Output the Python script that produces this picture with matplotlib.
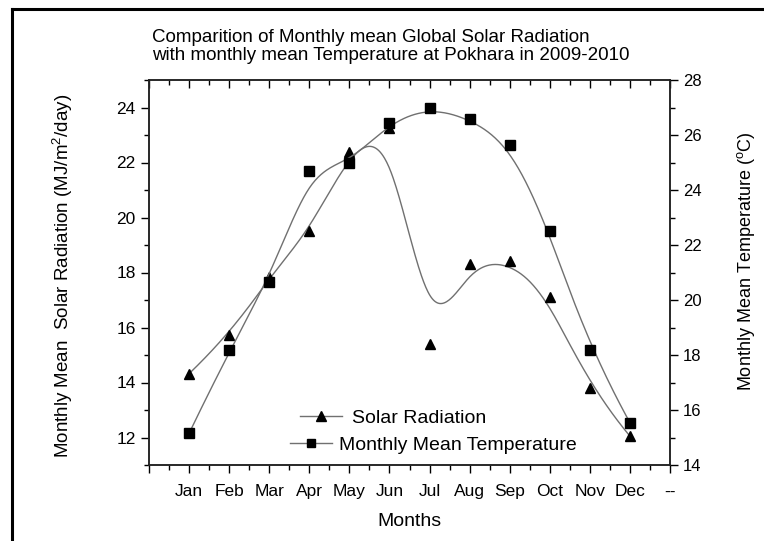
import numpy as np
import matplotlib
matplotlib.use('Agg')
import matplotlib.pyplot as plt
from matplotlib.lines import Line2D
from matplotlib.ticker import MultipleLocator

# Data
months = ['Jan', 'Feb', 'Mar', 'Apr', 'May', 'Jun',
          'Jul', 'Aug', 'Sep', 'Oct', 'Nov', 'Dec']
month_pos = np.arange(1, 13)
solar = [14.32, 15.72, 17.85, 19.5, 22.38, 23.24,
         15.4, 18.3, 18.42, 17.1, 13.8, 12.05]           # MJ/m2/day
temperature = [15.15, 18.18, 20.64, 24.7, 24.98, 26.45,
               27.0, 26.6, 25.64, 22.52, 18.18, 15.54]   # deg C


def bspline(xs, ys, n=500, k=3):
    # clamped cubic B-spline using the data as control points (Origin style)
    P = np.column_stack([xs, ys]).astype(float)
    m = len(P)
    knots = np.concatenate([np.zeros(k), np.arange(m - k + 1),
                            np.full(k, m - k)]).astype(float)
    t = np.linspace(0, m - k, n)
    t[-1] -= 1e-9
    B = np.zeros((n, len(knots) - 1))
    for i in range(len(knots) - 1):
        B[:, i] = (knots[i] <= t) & (t < knots[i + 1])
    for d in range(1, k + 1):
        Bn = np.zeros((n, len(knots) - 1 - d))
        for i in range(len(knots) - 1 - d):
            a = knots[i + d] - knots[i]
            b = knots[i + d + 1] - knots[i + 1]
            term = np.zeros(n)
            if a > 0:
                term += (t - knots[i]) / a * B[:, i]
            if b > 0:
                term += (knots[i + d + 1] - t) / b * B[:, i + 1]
            Bn[:, i] = term
        B = Bn
    curve = B @ P
    return curve[:, 0], curve[:, 1]


plt.rcParams['font.family'] = ['Liberation Sans', 'DejaVu Sans']

fig = plt.figure(figsize=(7.64, 5.41), dpi=100)
ax = fig.add_axes([149 / 764, 1 - 465 / 541, 521 / 764, 385 / 541])
ax2 = ax.twinx()

line_col = '#707070'

sx, sy = bspline(month_pos, solar)
ax.plot(sx, sy, color=line_col, lw=1.0, zorder=2)
ax.plot(month_pos, solar, ls='none', marker='^', ms=7.5, color='black', zorder=3)

tx, ty = bspline(month_pos, temperature)
ax2.plot(tx, ty, color=line_col, lw=1.0, zorder=2)
ax2.plot(month_pos, temperature, ls='none', marker='s', ms=6.5, color='black', zorder=3)

# axes ranges and ticks
ax.set_xlim(0, 13)
ax.set_ylim(11, 25)
ax2.set_ylim(14, 28)

ax.set_xticks(np.arange(0, 14))
ax.set_xticklabels([''] + months + ['--'])
ax.xaxis.set_minor_locator(MultipleLocator(0.5))
ax.set_yticks(np.arange(12, 25, 2))
ax.yaxis.set_minor_locator(MultipleLocator(1))
ax2.set_yticks(np.arange(14, 29, 2))
ax2.yaxis.set_minor_locator(MultipleLocator(1))

ax.tick_params(axis='x', which='both', direction='out', top=True)
ax.tick_params(axis='x', which='major', length=6, width=1, labelsize=12.5, pad=8)
ax.tick_params(axis='x', which='minor', length=3.5, width=1)
ax.tick_params(axis='y', which='major', length=6, width=1, labelsize=12.5, direction='out')
ax.tick_params(axis='y', which='minor', length=3.5, width=1, direction='out')
ax2.tick_params(axis='y', which='major', length=6, width=1, labelsize=12, direction='out')
ax2.tick_params(axis='y', which='minor', length=3.5, width=1, direction='out')
for t in ax.xaxis.get_major_ticks() + ax.xaxis.get_minor_ticks():
    t.tick2line.set_marker(3)  # top ticks pointing into the plot

for a in (ax, ax2):
    for s in a.spines.values():
        s.set_linewidth(1.1)
        s.set_color('#222222')

ax.set_xlabel('Months', fontsize=14, labelpad=10)
ax.set_ylabel('Monthly Mean  Solar Radiation (MJ/m$^{\\mathregular{2}}$/day)',
              fontsize=13.5)
ax.yaxis.set_label_coords(-0.142, 0.49)
ax2.set_ylabel('Monthly Mean Temperature ($^{\\mathregular{o}}$C)', fontsize=13)
ax2.yaxis.set_label_coords(1.125, 0.53)

# title, left aligned two lines
fig.text(152 / 764, 1 - 42 / 541, 'Comparition of Monthly mean Global Solar Radiation',
         fontsize=13.5, ha='left', va='baseline')
fig.text(152 / 764, 1 - 59.5 / 541, 'with monthly mean Temperature at Pokhara in 2009-2010',
         fontsize=13.5, ha='left', va='baseline')

# legend: two entries placed like the Origin legend
h_solar = Line2D([], [], color=line_col, lw=1.0, marker='^', ms=7,
                 mfc='black', mec='black')
h_temp = Line2D([], [], color=line_col, lw=1.0, marker='s', ms=6,
                mfc='black', mec='black')
leg1 = fig.legend([h_solar], ['Solar Radiation'], loc='center left',
                  bbox_to_anchor=(300 / 764, 1 - 418 / 541), frameon=False,
                  fontsize=14, handlelength=2.15, handletextpad=0.55,
                  borderpad=0, borderaxespad=0)
leg2 = fig.legend([h_temp], ['Monthly Mean Temperature'], loc='center left',
                  bbox_to_anchor=(290 / 764, 1 - 445 / 541), frameon=False,
                  fontsize=14, handlelength=2.15, handletextpad=0.35,
                  borderpad=0, borderaxespad=0)

# partial frame of the original image (top and left edges)
fig.add_artist(Line2D([12 / 764, 12 / 764], [0, 1 - 9 / 541],
                      transform=fig.transFigure, color='black', lw=2.2))
fig.add_artist(Line2D([12 / 764, 1], [1 - 9 / 541, 1 - 9 / 541],
                      transform=fig.transFigure, color='black', lw=2.2))

fig.savefig('out.png', dpi=100)
